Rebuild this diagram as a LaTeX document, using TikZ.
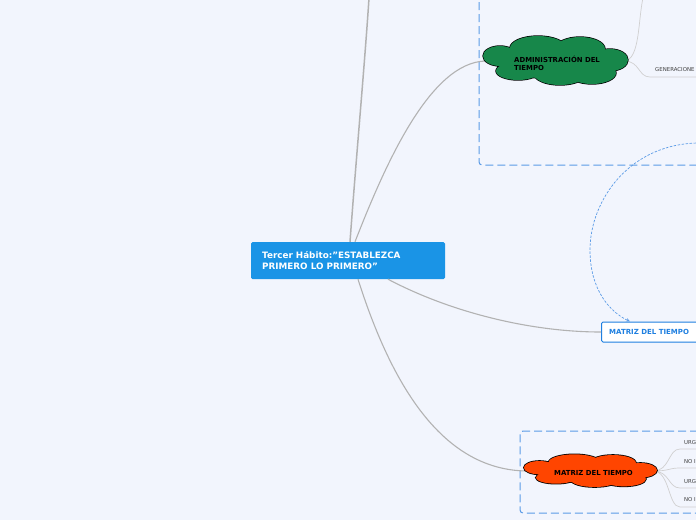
\documentclass[tikz,border=0pt]{standalone}
\usepackage{fontspec}
\setmainfont{DejaVu Sans}
\usetikzlibrary{arrows.meta}
\definecolor{bgc}{HTML}{F2F5FD}
\definecolor{mainblue}{HTML}{1A94E6}
\definecolor{cgreen}{HTML}{17874A}
\definecolor{corange}{HTML}{FF4500}
\definecolor{dashblue}{HTML}{5B9BE6}
\definecolor{linkgrey}{HTML}{B2B2B2}
\definecolor{subgrey}{HTML}{D0D0D0}
\definecolor{boxblue}{HTML}{1E7FE0}
\newcommand{\myCloudBlobs}{%
  (0,0) ellipse [x radius=55, y radius=18]
  (-55,-5) ellipse [x radius=17, y radius=10]
  (-17,-13) ellipse [x radius=28, y radius=12]
  (25,-12) ellipse [x radius=25, y radius=12]
  (55,-1) ellipse [x radius=18, y radius=11]
  (37,12) ellipse [x radius=24, y radius=11]
  (5,13) ellipse [x radius=26, y radius=11]
  (-37,10) ellipse [x radius=22, y radius=9]}
\tikzset{
  link/.style={draw=linkgrey, line width=1.1pt},
  sublink/.style={draw=subgrey, line width=0.7pt},
  groupbox/.style={draw=dashblue, line width=1pt, dash pattern=on 8pt off 4pt, rounded corners=3pt},
  anchorbox/.style={inner sep=0pt, minimum width=#1},
  cloudtext/.style={font=\bfseries\fontsize{6.9}{8}\selectfont, text=black, align=left, inner sep=0pt},
  leaf/.style={font=\fontsize{5.4}{6}\selectfont, text=black!75, inner sep=0pt, anchor=west},
}
\begin{document}
\begin{tikzpicture}[x=1pt,y=-1pt]
\useasboundingbox (0,0) rectangle (696,520);
\fill[bgc] (0,0) rectangle (696,520);
\clip (0,0) rectangle (696,520);

% group boxes
\draw[groupbox] (479,-10) -- (479,165) -- (710,165);
\draw[groupbox] (710,431) -- (520,431) -- (520,513) -- (710,513);

% central topic
\node[fill=mainblue, rounded corners=1.5pt, minimum width=194pt, minimum height=37pt, inner sep=0pt] (c) at (348,260.5) {};
\node[anchor=west, text=white, font=\bfseries\fontsize{8.8}{11}\selectfont, align=left, inner sep=0pt] (ct) at (262,261) {Tercer Hábito:"ESTABLEZCA\\PRIMERO LO PRIMERO"};

% invisible anchor nodes for the clouds
\node[anchorbox=146pt, minimum height=48pt] (adm) at (555,61) {};
\node[anchorbox=134pt, minimum height=32pt] (mat2) at (590,471) {};

% matrix box
\node[draw=boxblue, fill=white, line width=1pt, rounded corners=1.5pt, minimum height=20pt, minimum width=120pt, anchor=west, inner sep=0pt] (mat) at (601,332) {};
\node[anchor=west, inner sep=0pt, text=boxblue, font=\bfseries\fontsize{7}{8}\selectfont] (matt) at (609,332) {MATRIZ DEL TIEMPO};

% free ends
\coordinate (topend) at (369,-2);
\coordinate (upend) at (643,-2);
\coordinate (arcstart) at (700,143);

% main connectors
\draw[link, line width=1.5pt] ([xshift=2pt]c.north) .. controls (356,160) and (365,60) .. (topend);
\draw[link] ([xshift=7pt]c.north) .. controls (385,165) and (430,62) .. ([xshift=4pt]adm.west);
\draw[link] ([xshift=40pt]c.south) .. controls (450,312) and (530,332) .. (mat.west);
\draw[link] ([xshift=10pt]c.south) .. controls (390,380) and (440,470) .. ([xshift=4pt]mat2.west);

% dashed relation
\draw[dashblue, line width=0.7pt, dash pattern=on 2.5pt off 1.5pt, -{Stealth[length=4pt,width=3.5pt]}]
  (arcstart) .. controls (630,143) and (590,200) .. (590,250) .. controls (590,290) and (610,312) .. ([xshift=29pt]mat.north west);

% sub branches of ADMINISTRACION
\draw[sublink] ([xshift=-4pt]adm.east) .. controls (640,60) and (638,20) .. (upend);
\draw[sublink] ([xshift=-4pt]adm.east) .. controls (640,61) and (638,77) .. (650,77) -- (700,77);
\node[leaf] (gen) at (655,70) {GENERACIONE};

% sub branches of MATRIZ cloud
\foreach \ly/\uy/\txt [count=\i] in {443/449/URG, 462/468/NO I, 482/488/URG, 500/507/NO I}{
  \node[leaf] (l\i) at (684,\ly) {\txt};
  \draw[sublink] ([xshift=-4pt]mat2.east) .. controls (670,471) and (668,\uy) .. (680,\uy) -- (700,\uy);
}

% clouds
\begin{scope}[shift={(555,61)}]
  \draw[black, line width=1.4pt] \myCloudBlobs;
  \fill[cgreen] \myCloudBlobs;
\end{scope}
\begin{scope}[shift={(590,471)}, xscale=0.918, yscale=0.667]
  \draw[black, line width=1.6pt] \myCloudBlobs;
  \fill[corange] \myCloudBlobs;
\end{scope}
\node[cloudtext, anchor=west] (admt) at (514,63) {ADMINISTRACIÓN DEL\\TIEMPO};
\node[cloudtext] (mat2t) at (593.5,472.5) {MATRIZ DEL TIEMPO};
\end{tikzpicture}
\end{document}
